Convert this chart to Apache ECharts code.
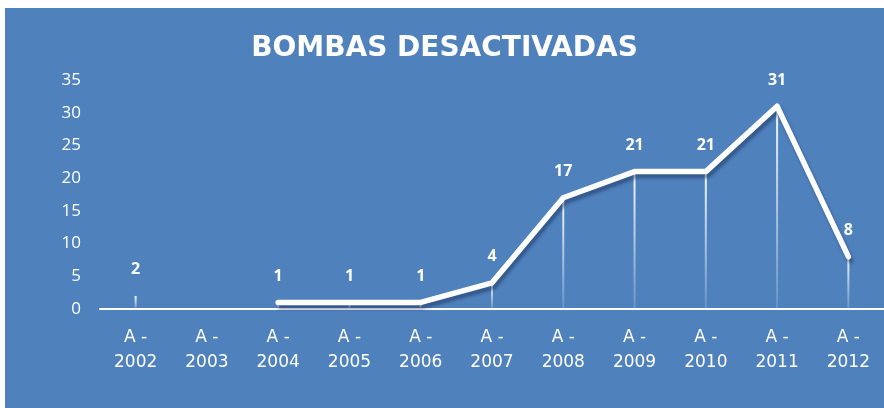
<!DOCTYPE html>
<html>
<head>
<meta charset="utf-8">
<script src="https://cdn.jsdelivr.net/npm/echarts@6/dist/echarts.min.js"></script>
<style>
  html, body { margin: 0; padding: 0; background: #ffffff; }
  #chart { position: absolute; left: 5px; top: 8px; width: 879px; height: 400px; background: #4F81BD; }
</style>
</head>
<body>
<div id="chart"></div>
<script>
var dom = document.getElementById("chart");
var myChart = echarts.init(dom);

var years = ["2002", "2003", "2004", "2005", "2006", "2007", "2008", "2009", "2010", "2011", "2012"];
var categories = years.map(function (y) { return "A -\n" + y; });
// 2003 has no value in the source
var bombas = [2, "-", 1, 1, 1, 4, 17, 21, 21, 31, 8];
var yTicks = [0, 5, 10, 15, 20, 25, 30, 35];

var option = {
    title: {
        text: "BOMBAS DESACTIVADAS",
        left: "center",
        top: 22,
        textStyle: {
            color: "#ffffff",
            fontFamily: "DejaVu Sans",
            fontWeight: "bold",
            fontSize: 28
        }
    },
    grid: {
        left: 95,
        right: -2,
        top: 72,
        bottom: 99
    },
    xAxis: {
        type: "category",
        data: categories,
        axisLine: { lineStyle: { color: "#ffffff", width: 2 } },
        axisTick: { show: false },
        axisLabel: {
            color: "#ffffff",
            fontFamily: "DejaVu Sans",
            fontSize: 17,
            lineHeight: 25,
            margin: 16
        }
    },
    yAxis: {
        type: "value",
        min: yTicks[0],
        max: yTicks[yTicks.length - 1],
        interval: 5,
        axisLine: { show: false },
        axisTick: { show: false },
        splitLine: { show: false },
        axisLabel: {
            color: "#ffffff",
            fontFamily: "Open Sans",
            fontSize: 17,
            margin: 19
        }
    },
    series: [
        {
            name: "drop",
            type: "bar",
            data: bombas,
            barWidth: 2,
            itemStyle: {
                color: new echarts.graphic.LinearGradient(0, 0, 0, 1, [
                    { offset: 0, color: "rgba(255,255,255,0.95)" },
                    { offset: 1, color: "rgba(255,255,255,0.15)" }
                ])
            },
            label: {
                show: true,
                position: "top",
                distance: 18,
                color: "#ffffff",
                fontFamily: "Open Sans",
                fontWeight: "bold",
                fontSize: 16
            },
            z: 1
        },
        {
            name: "Bombas",
            type: "line",
            data: bombas,
            showSymbol: false,
            symbol: "none",
            lineStyle: {
                color: "#ffffff",
                width: 5.5,
                cap: "round",
                join: "round",
                shadowColor: "rgba(20,40,80,0.45)",
                shadowBlur: 3,
                shadowOffsetX: 2,
                shadowOffsetY: 4
            },
            z: 2
        }
    ]
};

myChart.setOption(option, true);
</script>
</body>
</html>
